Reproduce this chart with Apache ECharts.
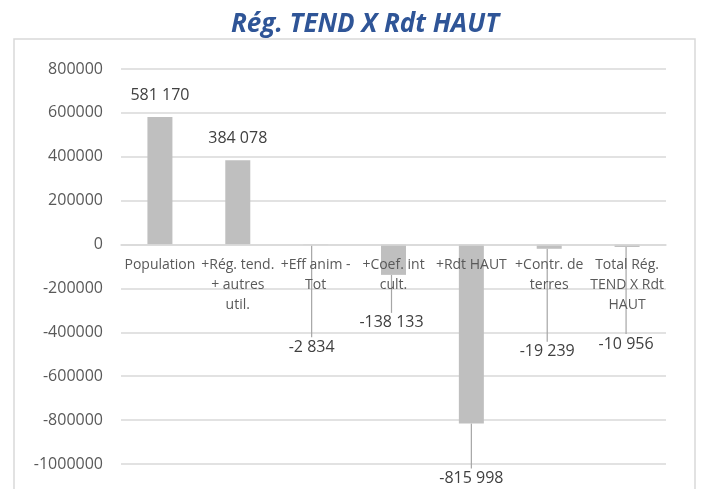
<!DOCTYPE html>
<html>
<head>
<meta charset="utf-8">
<script src="https://cdn.jsdelivr.net/npm/echarts@6/dist/echarts.min.js"></script>
<style>
  html, body { margin: 0; padding: 0; background: #fff; }
  #chart { width: 701px; height: 489px; }
</style>
</head>
<body>
<div id="chart"></div>
<script>
const titleText = 'Rég. TEND X Rdt HAUT';
const categories = [
  'Population',
  '+Rég. tend.\n+ autres\nutil.',
  '+Eff anim -\nTot',
  '+Coef. int\ncult.',
  '+Rdt HAUT',
  '+Contr. de\nterres',
  'Total Rég.\nTEND X Rdt\nHAUT'
];
const values = [581170, 384078, -2834, -138133, -815998, -19239, -10956];
const yTicks = { min: -1000000, max: 800000, step: 200000 };

// how far each data label was dragged away from the bar end (px)
const labelShift = [[0, -7], [0, -7], [-4, 87], [-2, 33], [0, 40], [-2, 88], [-1, 82]];

function fmtSpace(v) {
  const s = String(Math.abs(v)).replace(/\B(?=(\d{3})+(?!\d))/g, ' ');
  return (v < 0 ? '-' : '') + s;
}

const chart = echarts.init(document.getElementById('chart'));
const font = '"Open Sans", "Liberation Sans", sans-serif';

// plot area, in px
const plotTop = 69, plotBottom = 25;
const plotH = 489 - plotTop - plotBottom;
// the category axis sits on the zero line
const zeroFromBottom = plotH * (0 - yTicks.min) / (yTicks.max - yTicks.min);

chart.setOption({
  animation: false,
  backgroundColor: '#fff',
  textStyle: { fontFamily: font },
  graphic: [
    {
      type: 'rect',
      z: -10,
      shape: { x: 14, y: 39, width: 681, height: 470 },
      style: { fill: 'none', stroke: '#d9d9d9', lineWidth: 1.5 }
    },
    {
      type: 'text',
      x: 365,
      y: 25,
      style: {
        text: titleText,
        fill: '#2f5597',
        font: 'italic bold 26px "Open Sans", "Liberation Sans", sans-serif',
        textAlign: 'center',
        textVerticalAlign: 'middle'
      }
    }
  ],
  grid: { left: 121, right: 35, top: plotTop, bottom: plotBottom, containLabel: false, outerBoundsMode: 'none' },
  xAxis: {
    type: 'category',
    data: categories,
    z: 5,
    offset: -zeroFromBottom,
    axisLine: { onZero: false, lineStyle: { color: '#d9d9d9', width: 1.5 } },
    axisTick: { show: false },
    axisLabel: {
      interval: 0,
      margin: 10,
      color: '#595959',
      fontSize: 14,
      lineHeight: 20,
      align: 'center'
    }
  },
  yAxis: {
    type: 'value',
    min: yTicks.min,
    max: yTicks.max,
    interval: yTicks.step,
    axisLine: { show: false },
    axisTick: { show: false },
    splitLine: { lineStyle: { color: '#d9d9d9', width: 1.5 } },
    axisLabel: {
      color: '#595959',
      fontSize: 16,
      margin: 18,
      formatter: v => String(v)
    }
  },
  series: [{
    type: 'bar',
    data: values.map(v => ({
      value: v,
      label: { position: v < 0 ? 'bottom' : 'top' },
      labelLine: { show: v < 0 }
    })),
    barWidth: 25,
    itemStyle: { color: '#bfbfbf' },
    label: {
      show: true,
      distance: 5,
      color: '#404040',
      fontSize: 16,
      lineHeight: 20,
      formatter: p => fmtSpace(p.value)
    },
    labelLine: {
      show: true,
      lineStyle: { color: '#a6a6a6', width: 1.2 }
    },
    labelLayout: p => ({ dx: labelShift[p.dataIndex][0], dy: labelShift[p.dataIndex][1] })
  }]
});
</script>
</body>
</html>
